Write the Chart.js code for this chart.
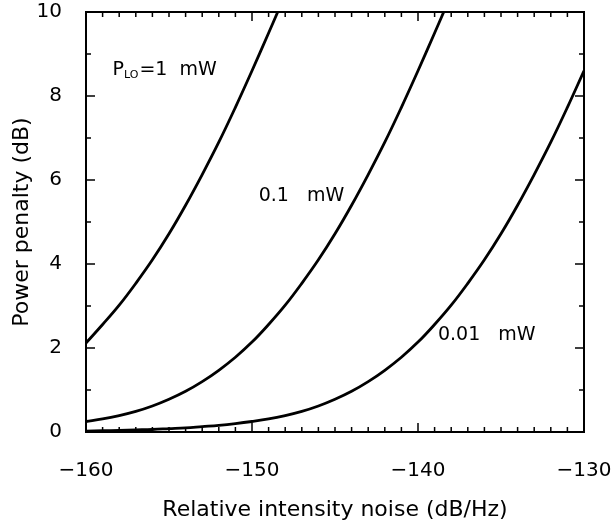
<!DOCTYPE html>
<html>
<head>
<meta charset="utf-8">
<script src="https://cdn.jsdelivr.net/npm/chart.js@4.4.0/dist/chart.umd.min.js"></script>
<style>
  html, body { margin: 0; padding: 0; background: #fff; }
  canvas { display: block; }
</style>
</head>
<body>
<canvas id="penaltyChart" width="615" height="529"></canvas>
<script>
// RIN (dB/Hz) and power penalty (dB)
const rin1mW = [-160, -159, -158, -157, -156, -155, -154, -153, -152, -151, -150, -149, -148.45];
const pen1mW = [2.12, 2.56, 3.02, 3.54, 4.10, 4.72, 5.40, 6.13, 6.90, 7.73, 8.60, 9.50, 10.0];

const rin01mW = [-160, -159, -158, -157, -156, -155, -154, -153, -152, -151, -150, -149, -148, -147, -146, -145, -144, -143, -142, -141, -140, -139, -138.45];
const pen01mW = [0.25, 0.31, 0.39, 0.49, 0.62, 0.78, 0.97, 1.20, 1.47, 1.78, 2.14, 2.56, 3.02, 3.54, 4.10, 4.72, 5.40, 6.13, 6.90, 7.73, 8.60, 9.50, 10.0];

const rin001mW = [-160, -159, -158, -157, -156, -155, -154, -153, -152, -151, -150, -149, -148, -147, -146, -145, -144, -143, -142, -141, -140, -139, -138, -137, -136, -135, -134, -133, -132, -131, -130];
const pen001mW = [0.02, 0.03, 0.04, 0.05, 0.06, 0.08, 0.10, 0.13, 0.16, 0.20, 0.25, 0.31, 0.39, 0.49, 0.62, 0.78, 0.97, 1.20, 1.47, 1.78, 2.14, 2.56, 3.02, 3.54, 4.10, 4.72, 5.40, 6.13, 6.90, 7.73, 8.60];

const xTicks = [-160, -150, -140, -130];
const yTicks = [0, 2, 4, 6, 8, 10];

// curve labels, placed in data coordinates
const curveLabels = [
  { x: -158.4, y: 8.62, text: '=1  mW', prefix: true },
  { x: -149.6, y: 5.62, text: '0.1   mW' },
  { x: -138.8, y: 2.31, text: '0.01   mW' }
];

const FONT = '"DejaVu Sans", sans-serif';

function toPoints(xs, ys) {
  return xs.map((v, i) => ({ x: v, y: ys[i] }));
}

function lineSet(label, xs, ys) {
  return {
    label: label,
    data: toPoints(xs, ys),
    borderColor: '#000',
    borderWidth: 2.8,
    pointRadius: 0,
    fill: false,
    tension: 0.4
  };
}

// frame with inward ticks on all four sides, plus the curve labels
const frameTicks = {
  id: 'frameTicks',
  afterDatasetsDraw(chart) {
    const { ctx, chartArea: a, scales: { x, y } } = chart;
    ctx.save();
    ctx.strokeStyle = '#000';
    ctx.lineWidth = 2;
    ctx.strokeRect(a.left, a.top, a.right - a.left, a.bottom - a.top);

    ctx.lineWidth = 1.5;
    ctx.beginPath();
    for (let v = xTicks[0]; v <= xTicks[xTicks.length - 1]; v++) {
      const px = x.getPixelForValue(v);
      const len = xTicks.includes(v) ? 9 : 5;
      ctx.moveTo(px, a.bottom); ctx.lineTo(px, a.bottom - len);
      ctx.moveTo(px, a.top); ctx.lineTo(px, a.top + len);
    }
    for (let v = yTicks[0]; v <= yTicks[yTicks.length - 1]; v++) {
      const py = y.getPixelForValue(v);
      const len = yTicks.includes(v) ? 9 : 5;
      ctx.moveTo(a.left, py); ctx.lineTo(a.left + len, py);
      ctx.moveTo(a.right, py); ctx.lineTo(a.right - len, py);
    }
    ctx.stroke();

    ctx.fillStyle = '#000';
    ctx.textBaseline = 'middle';
    ctx.textAlign = 'left';
    curveLabels.forEach(l => {
      let px = x.getPixelForValue(l.x);
      const py = y.getPixelForValue(l.y);
      if (l.prefix) {
        ctx.font = '19px ' + FONT;
        ctx.fillText('P', px, py);
        px += ctx.measureText('P').width;
        ctx.font = '11px ' + FONT;
        ctx.fillText('LO', px, py + 5);
        px += ctx.measureText('LO').width + 1;
      }
      ctx.font = '19px ' + FONT;
      ctx.fillText(l.text, px, py);
    });
    ctx.restore();
  }
};

const ctx = document.getElementById('penaltyChart').getContext('2d');
new Chart(ctx, {
  type: 'line',
  data: {
    datasets: [
      lineSet('1 mW', rin1mW, pen1mW),
      lineSet('0.1 mW', rin01mW, pen01mW),
      lineSet('0.01 mW', rin001mW, pen001mW)
    ]
  },
  options: {
    responsive: false,
    animation: false,
    layout: { padding: { left: 0, top: 12, right: 31, bottom: 0 } },
    plugins: {
      legend: { display: false },
      tooltip: { enabled: false }
    },
    scales: {
      x: {
        type: 'linear',
        min: -160,
        max: -130,
        afterFit: s => { s.height = 97; s.paddingLeft = 0; s.paddingRight = 0; },
        afterBuildTicks: s => { s.ticks = xTicks.map(v => ({ value: v })); },
        ticks: {
          padding: 19,
          color: '#000',
          font: { family: FONT, size: 20 },
          callback: v => String(v).replace('-', '\u2212')
        },
        grid: { display: false },
        border: { display: false },
        title: {
          display: true,
          text: 'Relative intensity noise (dB/Hz)',
          color: '#000',
          font: { family: FONT, size: 22 },
          padding: { top: 0, bottom: 6 }
        }
      },
      y: {
        min: 0,
        max: 10,
        afterFit: s => { s.width = 86; s.paddingTop = 0; s.paddingBottom = 0; },
        afterBuildTicks: s => { s.ticks = yTicks.map(v => ({ value: v })); },
        ticks: {
          padding: 16,
          color: '#000',
          font: { family: FONT, size: 20 }
        },
        grid: { display: false },
        border: { display: false },
        title: {
          display: true,
          text: 'Power penalty (dB)',
          color: '#000',
          font: { family: FONT, size: 22 },
          padding: { top: 9, bottom: 0 }
        }
      }
    }
  },
  plugins: [frameTicks]
});
</script>
</body>
</html>
